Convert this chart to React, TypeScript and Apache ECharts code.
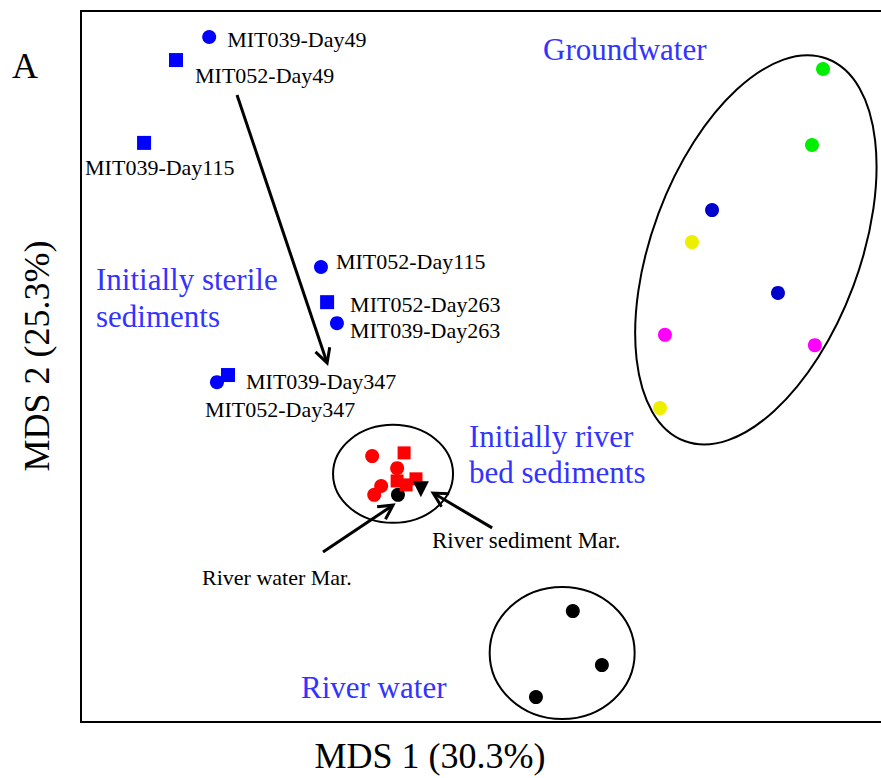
import React, { useEffect, useRef } from 'react';
import * as echarts from 'echarts';

const FONT = '"Liberation Serif", "Times New Roman", serif';
const GROUP_COLOR = '#3333ff';

// Initially sterile sediments, MDS coordinates [MDS1, MDS2]
const sterileCircles = [
  { name: 'MIT039-Day49', value: [-0.687, 0.927] },
  { name: 'MIT052-Day115', value: [-0.414, 0.28] },
  { name: 'MIT039-Day263', value: [-0.375, 0.122] },
  { name: 'MIT052-Day347', value: [-0.668, -0.044] },
];
const sterileSquares = [
  { name: 'MIT052-Day49', value: [-0.768, 0.862] },
  { name: 'MIT039-Day115', value: [-0.846, 0.629] },
  { name: 'MIT052-Day263', value: [-0.399, 0.181] },
  { name: 'MIT039-Day347', value: [-0.641, -0.024] },
];

// Groundwater samples
const gwGreen = [[0.812, 0.837], [0.785, 0.623]];
const gwNavy = [[0.541, 0.44], [0.702, 0.207]];
const gwYellow = [[0.492, 0.35], [0.414, -0.117]];
const gwMagenta = [[0.426, 0.089], [0.792, 0.06]];

// Initially river bed sediments
const riverBedCircles = [[-0.289, -0.252], [-0.228, -0.286], [-0.267, -0.336], [-0.284, -0.361]];
const riverBedSquares = [[-0.211, -0.243], [-0.228, -0.322], [-0.182, -0.316], [-0.206, -0.333]];

// River water and March references
const riverWater = [[0.201, -0.688], [0.272, -0.84], [0.111, -0.93]];
const riverWaterMar = [[-0.226, -0.361]];
const riverSedimentMar = [[-0.17, -0.345]];

// Visible MDS ranges of the plot frame
const X_RANGE = [-1, 0.9536];
const Y_RANGE = [-1, 1];

// Label placement (px from the marker centre to the label's left/middle)
const labelOffset: Record<string, [number, number]> = {
  'MIT039-Day49': [18, 3],
  'MIT052-Day49': [19, 15],
  'MIT039-Day115': [-59, 25],
  'MIT052-Day115': [15, -5],
  'MIT052-Day263': [23, 2],
  'MIT039-Day263': [13, 7],
  'MIT039-Day347': [18, 6],
  'MIT052-Day347': [-12, 27],
};

// Cluster outlines: centre in MDS units, radii in px, tilt in degrees
const outlines = [
  { center: [0.648, 0.328], rx: 104, ry: 204, tilt: -20.4 },
  { center: [-0.238, -0.302], rx: 60, ry: 49, tilt: 0 },
  { center: [0.175, -0.806], rx: 72.5, ry: 66, tilt: 0 },
];

// Arrows in MDS units
const arrows = [
  { from: [-0.619, 0.764], to: [-0.399, 0.01] },
  { from: [-0.409, -0.522], to: [-0.238, -0.39] },
  { from: [0.004, -0.454], to: [-0.14, -0.356] },
];

export default function App() {
  const ref = useRef<HTMLDivElement>(null);

  useEffect(() => {
    const el = ref.current;
    if (!el) return;
    const chart = echarts.init(el, null, { renderer: 'svg' });

    const sampleLabel = (name: string) => ({
      show: true,
      position: 'inside',
      align: 'left',
      verticalAlign: 'middle',
      offset: labelOffset[name],
      formatter: '{b}',
      color: '#000',
      textBorderWidth: 0,
      fontFamily: FONT,
      fontSize: 22,
    });
    const named = (arr: { name: string; value: number[] }[]) =>
      arr.map((d) => ({ name: d.name, value: d.value, label: sampleLabel(d.name) }));

    const scatter = (name: string, data: any[], color: string, symbol = 'circle', size = 14, extra: any = {}) => ({
      type: 'scatter',
      name,
      data,
      symbol,
      symbolSize: size,
      itemStyle: { color, opacity: 1 },
      emphasis: { disabled: true },
      ...extra,
    });

    const frameAxis = (range: number[], extra: any = {}) => ({
      type: 'value',
      min: range[0],
      max: range[1],
      axisLine: { show: true, onZero: false, lineStyle: { color: '#000', width: 2 } },
      axisTick: { show: false },
      axisLabel: { show: false },
      splitLine: { show: false },
      ...extra,
    });

    chart.setOption({
      animation: false,
      grid: { left: 81, top: 11, right: 0, bottom: 56, show: false },
      xAxis: [
        frameAxis(X_RANGE, { position: 'bottom' }),
        frameAxis(X_RANGE, { position: 'top' }),
      ],
      yAxis: frameAxis(Y_RANGE, { position: 'left' }),
      series: [
        scatter('Groundwater green', gwGreen, '#00ee00'),
        scatter('Groundwater navy', gwNavy, '#0000cc'),
        scatter('Groundwater yellow', gwYellow, '#eeee00'),
        scatter('Groundwater magenta', gwMagenta, '#ff00ff'),
        scatter('River water', riverWater, '#000'),
        scatter('River water Mar.', riverWaterMar, '#000', 'circle', 14, { z: 2 }),
        scatter('Bed circles', riverBedCircles, '#ff0000', 'circle', 14, { z: 3 }),
        scatter('Bed squares', riverBedSquares, '#ff0000', 'rect', 13, { z: 3 }),
        scatter('River sediment Mar.', riverSedimentMar, '#000', 'triangle', 16, { z: 4, symbolRotate: 180 }),
        scatter('Sterile circles', named(sterileCircles), '#0000ff'),
        scatter('Sterile squares', named(sterileSquares), '#0000ff', 'rect', 14),
      ],
    });

    const px = (v: number[]) => chart.convertToPixel({ xAxisIndex: 0, yAxisIndex: 0 }, v) as number[];
    const graphics: any[] = [];

    outlines.forEach((o) => {
      const [cx, cy] = px(o.center);
      graphics.push({
        type: 'ellipse',
        x: cx,
        y: cy,
        rotation: (o.tilt * Math.PI) / 180,
        shape: { cx: 0, cy: 0, rx: o.rx, ry: o.ry },
        style: { fill: 'none', stroke: '#000', lineWidth: 2 },
        silent: true,
      });
    });

    arrows.forEach((a) => {
      const [x1, y1] = px(a.from);
      const [x2, y2] = px(a.to);
      const len = Math.hypot(x2 - x1, y2 - y1);
      const ux = (x2 - x1) / len;
      const uy = (y2 - y1) / len;
      const head = 16;
      const ang = (28 * Math.PI) / 180;
      const arm = (s: number) => [
        x2 - head * (ux * Math.cos(ang) - s * uy * Math.sin(ang)),
        y2 - head * (uy * Math.cos(ang) + s * ux * Math.sin(ang)),
      ];
      graphics.push({
        type: 'line',
        shape: { x1, y1, x2: x2 - ux * 1.5, y2: y2 - uy * 1.5 },
        style: { stroke: '#000', lineWidth: 3 },
        silent: true,
      });
      graphics.push({
        type: 'polyline',
        shape: { points: [arm(1), [x2, y2], arm(-1)] },
        style: { stroke: '#000', lineWidth: 3, fill: 'none', lineJoin: 'miter' },
        silent: true,
      });
    });

    const text = (t: string, x: number, y: number, size: number, color: string, lineHeight?: number) => ({
      type: 'text',
      x,
      y,
      silent: true,
      style: {
        text: t,
        fill: color,
        font: `${size}px ${FONT}`,
        align: 'left',
        verticalAlign: 'middle',
        lineHeight,
      },
    });

    graphics.push(text('Groundwater', 543, 49, 31, GROUP_COLOR));
    graphics.push(text('Initially sterile\nsediments', 96, 298, 31, GROUP_COLOR, 37));
    graphics.push(text('Initially river\nbed sediments', 469, 454, 31, GROUP_COLOR, 36));
    graphics.push(text('River water', 301, 687, 31, GROUP_COLOR));
    graphics.push(text('River sediment Mar.', 432, 540, 23, '#000'));
    graphics.push(text('River water Mar.', 202, 577, 22, '#000'));
    graphics.push(text('A', 12, 66, 36, '#000'));
    graphics.push({
      type: 'text',
      x: 430,
      y: 756,
      silent: true,
      style: { text: 'MDS 1 (30.3%)', fill: '#000', font: `36px ${FONT}`, align: 'center', verticalAlign: 'middle' },
    });
    graphics.push({
      type: 'text',
      x: 37,
      y: 356,
      rotation: Math.PI / 2,
      silent: true,
      style: { text: 'MDS 2 (25.3%)', fill: '#000', font: `36px ${FONT}`, align: 'center', verticalAlign: 'middle' },
    });

    chart.setOption({ graphic: graphics });

    return () => chart.dispose();
  }, []);

  return <div ref={ref} style={{ position: 'absolute', left: 0, top: 0, width: 881, height: 778 }} />;
}
